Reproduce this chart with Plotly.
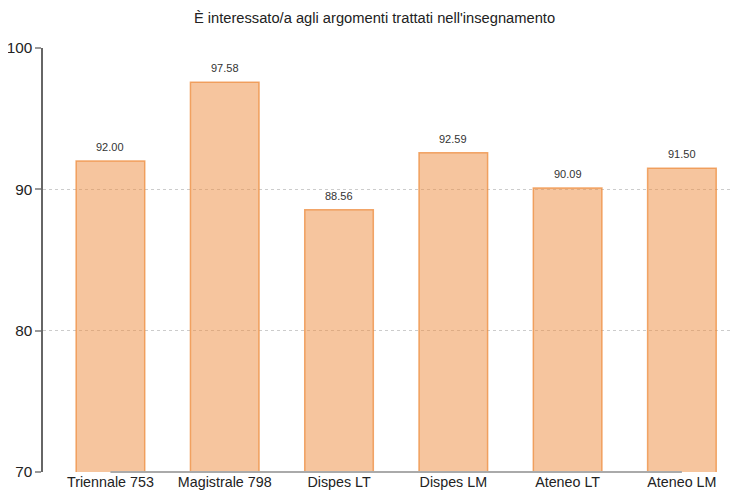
import plotly.graph_objects as go

categories = ["Triennale 753", "Magistrale 798", "Dispes LT", "Dispes LM", "Ateneo LT", "Ateneo LM"]
values = [92.00, 97.58, 88.56, 92.59, 90.09, 91.50]
title_text = "È interessato/a agli argomenti trattati nell'insegnamento"
y_ticks = [70, 80, 90, 100]

fig = go.Figure()
fig.add_trace(go.Bar(
    x=categories, y=values, width=0.6,
    marker=dict(color="rgba(238,140,62,0.5)", line=dict(color="rgba(238,140,62,0.75)", width=1.5)),
    hoverinfo="skip",
))
for c, v in zip(categories, values):
    fig.add_annotation(x=c, y=v, text=f"{v:.2f}", showarrow=False, yanchor="bottom", yshift=6,
                       font=dict(size=11, color="#333333", family="Liberation Sans, Arial"))
fig.add_shape(type="line", xref="x", yref="paper", x0=categories[0], x1=categories[-1], y0=0, y1=0,
              line=dict(color="#aaaaaa", width=2), layer="above")
fig.update_layout(
    width=733, height=490,
    margin=dict(l=35, r=0, t=40, b=26, autoexpand=False),
    paper_bgcolor="white", plot_bgcolor="white",
    title=dict(text=title_text, x=0.5, xanchor="center", y=0.9796, yanchor="middle",
               font=dict(size=14.7, color="#222222", family="Liberation Sans, Arial")),
    font=dict(family="Liberation Sans, Arial", color="#222222"),
    showlegend=False, bargap=0.4,
)
fig.update_xaxes(range=[-0.59, 5.517], showline=False, showgrid=False, ticks="", automargin=False,
                 tickfont=dict(size=14.3, color="#222222"), fixedrange=True)
fig.update_yaxes(range=[70, 100], tickvals=y_ticks, showline=True, linecolor="#666666", linewidth=1.5,
                 ticks="outside", ticklen=6, tickcolor="#999999", tickwidth=1.5, automargin=False,
                 showgrid=True, gridcolor="#cccccc", griddash="dot", gridwidth=1,
                 zeroline=False, tickfont=dict(size=15.3, color="#222222"), fixedrange=True)
fig.write_html("out.html")
